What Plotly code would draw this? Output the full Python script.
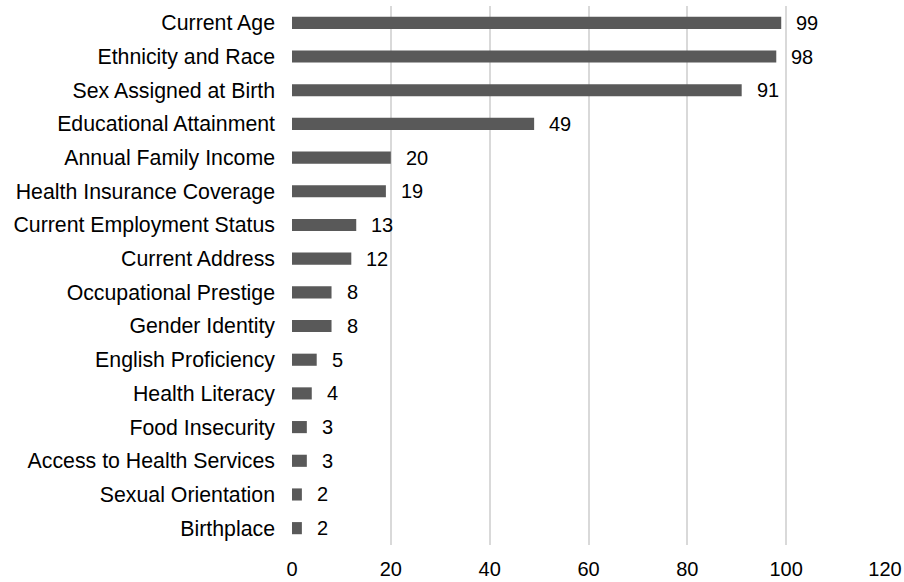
import plotly.graph_objects as go

categories = ["Current Age", "Ethnicity and Race", "Sex Assigned at Birth", "Educational Attainment",
              "Annual Family Income", "Health Insurance Coverage", "Current Employment Status",
              "Current Address", "Occupational Prestige", "Gender Identity", "English Proficiency",
              "Health Literacy", "Food Insecurity", "Access to Health Services", "Sexual Orientation",
              "Birthplace"]
values = [99, 98, 91, 49, 20, 19, 13, 12, 8, 8, 5, 4, 3, 3, 2, 2]
x_ticks = [0, 20, 40, 60, 80, 100, 120]

font_family = "Liberation Sans, Arial, sans-serif"

fig = go.Figure(go.Bar(
    x=values, y=categories, orientation="h",
    marker=dict(color="#595959", line=dict(width=0)),
    hoverinfo="x+y",
))

for c, v in zip(categories, values):
    fig.add_annotation(x=v, y=c, text=str(v), showarrow=False, xanchor="left",
                       xshift=13, font=dict(size=20, color="#000000", family=font_family))

fig.update_layout(
    width=904, height=582,
    margin=dict(l=292, r=19, t=6, b=37),
    plot_bgcolor="white", paper_bgcolor="white",
    bargap=0.64,
    showlegend=False,
    font=dict(family=font_family, size=20, color="#000000"),
    xaxis=dict(range=[0, 120], tickvals=x_ticks, showgrid=True, gridcolor="#d9d9d9",
               gridwidth=2, zeroline=False, showline=False, ticks="",
               tickfont=dict(size=20), ticklen=0, ticklabelstandoff=10, automargin=False),
    yaxis=dict(autorange="reversed", showgrid=False, showline=False, ticks="",
               tickfont=dict(size=21.3), ticklabelstandoff=16, automargin=False),
)

fig.write_html("out.html")
